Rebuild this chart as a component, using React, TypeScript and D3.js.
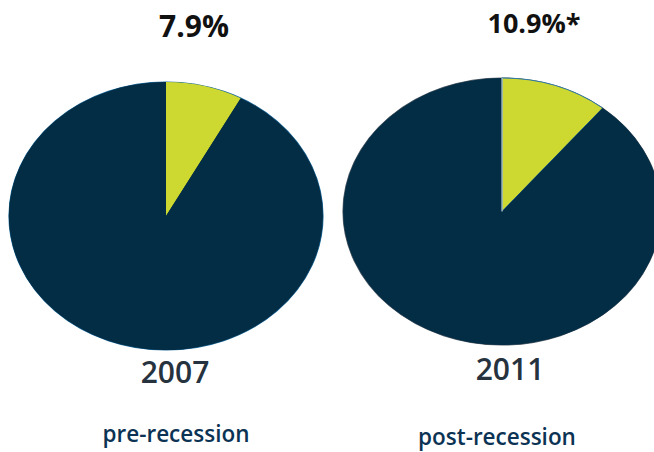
import React from "react";
import * as d3 from "d3";

const years = ["2007", "2011"];
const shares = [7.9, 10.9];
const shareLabels = ["7.9%", "10.9%*"];
const periods = ["pre-recession", "post-recession"];

const W = 654;
const H = 452;
const NAVY = "#032c45";
const LIME = "#cdd930";

const pies = [
  { cx: 166, cy: 216, rx: 157, ry: 134, edge: "#1f6c9c", start: "none", top: 37, topSize: 30, yearY: 383, periodY: 442 },
  { cx: 502, cy: 211.5, rx: 159, ry: 133.5, edge: "#55606a", start: "#b9c9d4", top: 33, topSize: 27, yearY: 380, periodY: 445 },
];
const labelX = [[194, 534], [175, 510]];
const periodX = [176, 497];

export default function App() {
  const pieGen = d3.pie<number>().sort(null).value((d) => d);
  const arc = d3.arc<d3.PieArcDatum<number>>().innerRadius(0).outerRadius(1);
  return (
    <svg width={W} height={H} style={{ position: "absolute", left: 0, top: 0, background: "#fff" }}>
      {shares.map((s, i) => {
        const p = pies[i];
        const arcs = pieGen([s, 100 - s]);
        return (
          <g key={years[i]}>
            <g transform={`translate(${p.cx},${p.cy}) scale(${p.rx},${p.ry})`}>
              <ellipse cx={0} cy={0} rx={1} ry={1} fill={NAVY} stroke={p.edge} strokeWidth={1.2} vectorEffect="non-scaling-stroke" />
              {arcs.map((a, j) => (
                <path
                  key={j}
                  d={arc(a) || ""}
                  fill={j === 0 ? LIME : NAVY}
                  stroke={j === 0 ? (i === 1 ? "#2f78a6" : "none") : "none"}
                  strokeWidth={1}
                  vectorEffect="non-scaling-stroke"
                />
              ))}
              {p.start !== "none" && (
                <line x1={0} y1={0} x2={0} y2={-1} stroke={p.start} strokeWidth={1.2} vectorEffect="non-scaling-stroke" />
              )}
            </g>
            <text x={labelX[0][i]} y={p.top} textAnchor="middle" fontFamily="'Open Sans', sans-serif" fontWeight={700} fontSize={p.topSize} fill="#111">
              {shareLabels[i]}
            </text>
            <text x={labelX[1][i]} y={p.yearY} textAnchor="middle" fontFamily="'Open Sans', sans-serif" fontWeight={600} fontSize={30} fill="#26323e">
              {years[i]}
            </text>
            <text x={periodX[i]} y={p.periodY} textAnchor="middle" fontFamily="'Open Sans', sans-serif" fontWeight={600} fontSize={22.5} fill="#0c3354">
              {periods[i]}
            </text>
          </g>
        );
      })}
    </svg>
  );
}
